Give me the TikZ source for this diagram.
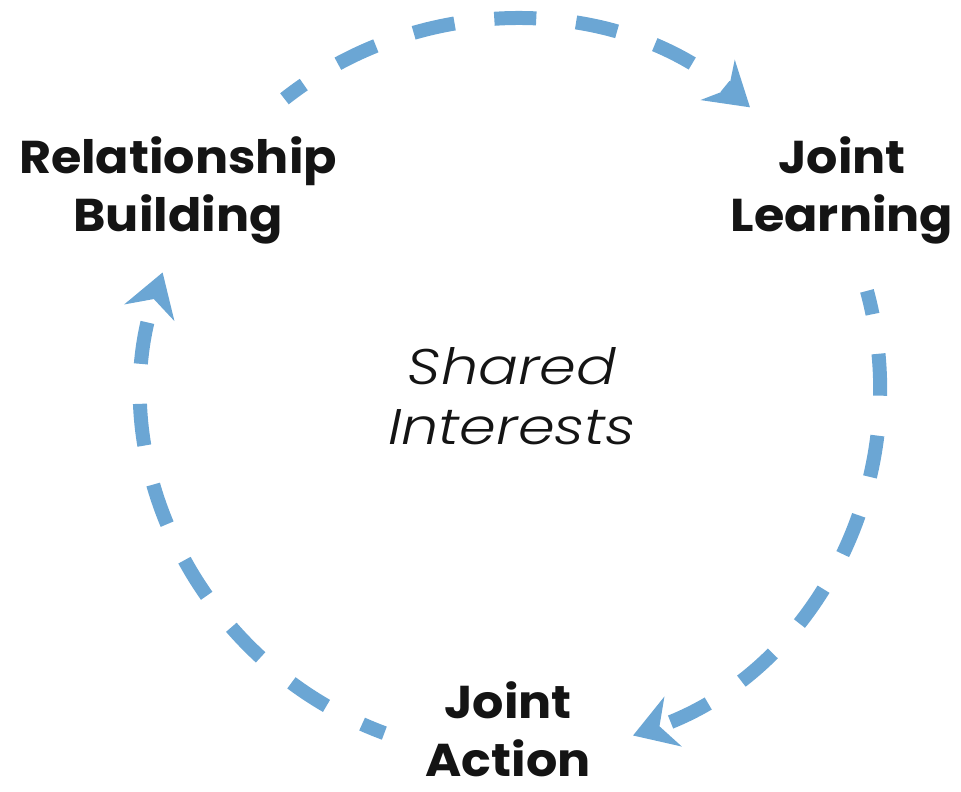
\documentclass[tikz,border=0pt]{standalone}
\usepackage{fontspec}
\usetikzlibrary{arrows.meta}
\setmainfont{Poppins}
\newfontfamily\widebold{Poppins}[FakeStretch=1.07]
\IfFontExistsTF{Poppins Light Italic}{\newfontfamily\lightit{Poppins Light Italic}[FakeStretch=1.18]}{\newfontfamily\lightit{Poppins}[UprightFont=*-Italic,FakeStretch=1.18]}
\definecolor{cycleblue}{RGB}{107,166,212}
\definecolor{ink}{RGB}{20,20,20}
\tikzset{
  flow/.style={draw=cycleblue, line width=14pt, dash pattern=on 42pt off 40pt, dash phase=18pt,
    -{Stealth[length=42pt,width=52pt,inset=14pt,fill=cycleblue]}},
  stagelabel/.style={anchor=base, align=center, text=ink, inner sep=0pt,
    font=\widebold\fontsize{46}{58}\selectfont\bfseries},
  centerlabel/.style={anchor=base, align=center, text=ink, inner sep=0pt,
    font=\lightit\fontsize{50}{60}\selectfont}
}
\begin{document}
\begin{tikzpicture}[x=1pt,y=1pt]
\useasboundingbox (0,0) rectangle (961,792);
\coordinate (c) at (512,404);
\node[stagelabel] (rb) at (178,560) {Relationship\\Building};
\node[stagelabel] (jl) at (842,560) {Joint\\Learning};
\node[stagelabel] (ja) at (508,15) {Joint\\Action};
\node[centerlabel] (si) at (512,347) {Shared\\Interests};
\draw[flow] ([shift={(128.2:368)}]c) arc[start angle=128.2, end angle=49.7, radius=368];
\draw[flow] ([shift={(15.3:368)}]c) arc[start angle=15.3, end angle=-70.8, radius=368];
\draw[flow] ([shift={(249.7:368)}]c) arc[start angle=249.7, end angle=161.7, radius=368];
\end{tikzpicture}
\end{document}
